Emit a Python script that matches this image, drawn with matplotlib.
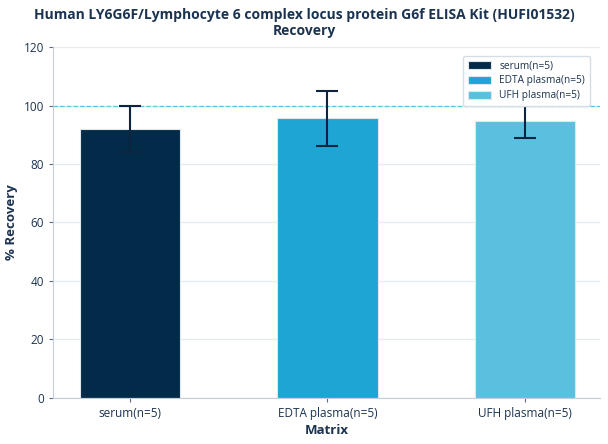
import matplotlib
matplotlib.use('Agg')
import matplotlib.pyplot as plt
import numpy as np

plt.rcParams['font.family'] = ['Open Sans', 'DejaVu Sans']

# Data
matrices = ['serum(n=5)', 'EDTA plasma(n=5)', 'UFH plasma(n=5)']
recovery = [92.0, 95.6, 94.8]
recovery_sd = [8.0, 9.4, 5.8]
bar_colors = ['#022b4a', '#1fa5d3', '#5bbfe0']

TEXT = '#1b3350'
GRID = '#e6ebf0'
SPINE = '#c5ced8'

fig = plt.figure(figsize=(6.08, 4.44), dpi=100)
ax = fig.add_axes([0.087, 0.104, 0.900, 0.790])

x = np.arange(len(matrices))
bars = ax.bar(x, recovery, width=0.51, color=bar_colors,
              edgecolor='#dfe6ec', linewidth=0.8, zorder=2)
for b, lab in zip(bars, matrices):
    b.set_label(lab)
ax.errorbar(x, recovery, yerr=recovery_sd, fmt='none', ecolor='#0d2440',
            elinewidth=1.5, capsize=8, capthick=1.5, zorder=3)

ax.axhline(100, color='#5bc3e3', linestyle='--', linewidth=0.9, zorder=1.5)

ax.set_xlim(-0.39, 2.38)
ax.set_ylim(0, 120)
ax.set_yticks(np.arange(0, 121, 20))
ax.set_xticks(x)
ax.set_xticklabels(matrices)
ax.yaxis.grid(True, color=GRID, linewidth=1.0, zorder=0)
ax.set_axisbelow(True)

for side in ['top', 'right']:
    ax.spines[side].set_visible(False)
for side in ['left', 'bottom']:
    ax.spines[side].set_color(SPINE)
ax.tick_params(colors=TEXT, labelsize=8.5, length=3, width=0.8)
ax.tick_params(axis='both', color='#5a6b7e')

ax.set_xlabel('Matrix', fontsize=9.5, fontweight='bold', color=TEXT, labelpad=3)
ax.set_ylabel('% Recovery', fontsize=9.5, fontweight='bold', color=TEXT, labelpad=4)
fig.suptitle('Human LY6G6F/Lymphocyte 6 complex locus protein G6f ELISA Kit (HUFI01532)\nRecovery',
             fontsize=10, fontweight='bold', color=TEXT, y=0.982, linespacing=1.2)

leg = ax.legend(handles=list(bars), loc='upper right', fontsize=7.3,
                frameon=True, fancybox=True, framealpha=1.0, borderpad=0.45,
                labelspacing=0.4, handlelength=2.3, handleheight=0.8,
                bbox_to_anchor=(0.99, 0.99))
leg.get_frame().set_edgecolor('#d5dde5')
leg.set_zorder(5)
for t in leg.get_texts():
    t.set_color(TEXT)

fig.savefig('out.png', dpi=100, facecolor='white')
